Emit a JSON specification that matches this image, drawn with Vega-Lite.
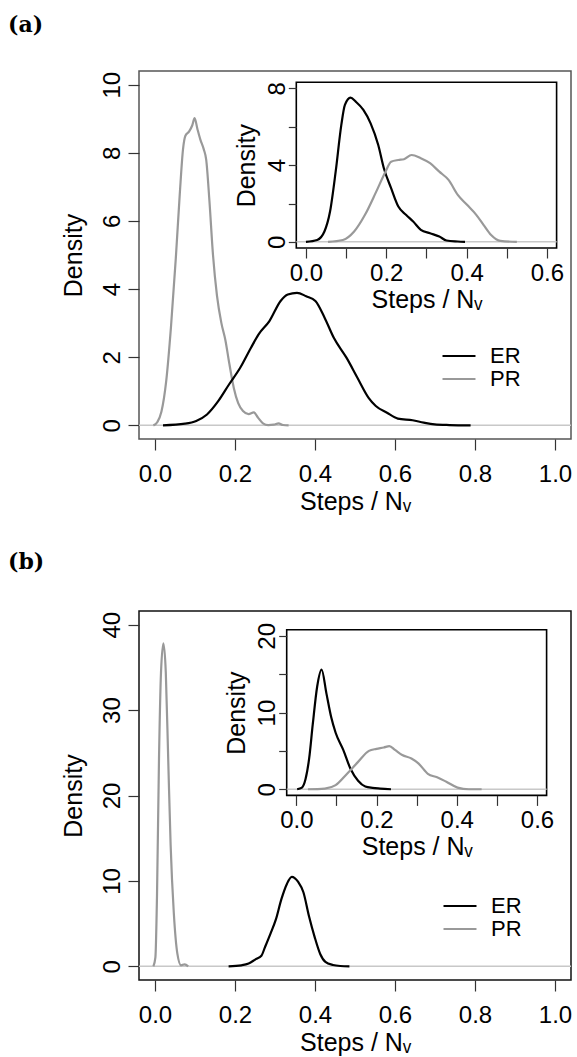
{
  "$schema": "https://vega.github.io/schema/vega-lite/v6.json",
  "background": "white",
  "padding": {"left": 7, "top": 13, "right": 3, "bottom": 0},
  "spacing": 35,
  "resolve": {"scale": {"color": "independent"}},
  "config": {
    "font": "Liberation Sans",
    "axis": {"grid": false, "domain": false, "tickColor": "#333333", "tickWidth": 1.2, "labelFont": "Liberation Sans", "labelFontSize": 24, "labelColor": "#000000", "titleFont": "Liberation Sans", "titleFontSize": 25, "titleFontWeight": "normal", "titleColor": "#000000", "labelFlush": false, "labelOverlap": false},
    "line": {"strokeWidth": 2.2, "interpolate": "monotone"},
    "legend": {"labelFont": "Liberation Sans", "labelFontSize": 22, "labelColor": "#000000"}
  },
  "datasets": {
    "a_main": [
      {"x": -0.004, "y": 0, "series": "PR"}, {"x": 0.006, "y": 0.1, "series": "PR"}, {"x": 0.016, "y": 0.4, "series": "PR"}, {"x": 0.028, "y": 1.3, "series": "PR"}, {"x": 0.04, "y": 2.9, "series": "PR"}, {"x": 0.052, "y": 4.9, "series": "PR"}, {"x": 0.062, "y": 6.8, "series": "PR"}, {"x": 0.07, "y": 8.1, "series": "PR"}, {"x": 0.076, "y": 8.5, "series": "PR"}, {"x": 0.085, "y": 8.62, "series": "PR"}, {"x": 0.093, "y": 8.8, "series": "PR"}, {"x": 0.099, "y": 9.02, "series": "PR"}, {"x": 0.106, "y": 8.7, "series": "PR"}, {"x": 0.113, "y": 8.4, "series": "PR"}, {"x": 0.122, "y": 8.1, "series": "PR"}, {"x": 0.128, "y": 7.8, "series": "PR"}, {"x": 0.136, "y": 6.6, "series": "PR"}, {"x": 0.145, "y": 5.0, "series": "PR"}, {"x": 0.155, "y": 3.8, "series": "PR"}, {"x": 0.166, "y": 3.0, "series": "PR"}, {"x": 0.176, "y": 2.5, "series": "PR"}, {"x": 0.186, "y": 1.8, "series": "PR"}, {"x": 0.197, "y": 1.1, "series": "PR"}, {"x": 0.208, "y": 0.65, "series": "PR"}, {"x": 0.22, "y": 0.42, "series": "PR"}, {"x": 0.234, "y": 0.33, "series": "PR"}, {"x": 0.247, "y": 0.38, "series": "PR"}, {"x": 0.258, "y": 0.22, "series": "PR"}, {"x": 0.27, "y": 0.06, "series": "PR"}, {"x": 0.283, "y": 0.01, "series": "PR"}, {"x": 0.297, "y": 0.02, "series": "PR"}, {"x": 0.309, "y": 0.06, "series": "PR"}, {"x": 0.32, "y": 0.01, "series": "PR"}, {"x": 0.334, "y": 0, "series": "PR"},
      {"x": 0.02, "y": 0, "series": "ER"}, {"x": 0.075, "y": 0.05, "series": "ER"}, {"x": 0.103, "y": 0.13, "series": "ER"}, {"x": 0.13, "y": 0.32, "series": "ER"}, {"x": 0.158, "y": 0.71, "series": "ER"}, {"x": 0.185, "y": 1.2, "series": "ER"}, {"x": 0.213, "y": 1.69, "series": "ER"}, {"x": 0.24, "y": 2.28, "series": "ER"}, {"x": 0.259, "y": 2.67, "series": "ER"}, {"x": 0.286, "y": 3.06, "series": "ER"}, {"x": 0.314, "y": 3.65, "series": "ER"}, {"x": 0.332, "y": 3.84, "series": "ER"}, {"x": 0.355, "y": 3.89, "series": "ER"}, {"x": 0.378, "y": 3.79, "series": "ER"}, {"x": 0.401, "y": 3.65, "series": "ER"}, {"x": 0.424, "y": 3.16, "series": "ER"}, {"x": 0.447, "y": 2.57, "series": "ER"}, {"x": 0.479, "y": 1.98, "series": "ER"}, {"x": 0.506, "y": 1.4, "series": "ER"}, {"x": 0.534, "y": 0.81, "series": "ER"}, {"x": 0.552, "y": 0.57, "series": "ER"}, {"x": 0.58, "y": 0.37, "series": "ER"}, {"x": 0.607, "y": 0.2, "series": "ER"}, {"x": 0.644, "y": 0.15, "series": "ER"}, {"x": 0.672, "y": 0.08, "series": "ER"}, {"x": 0.699, "y": 0.03, "series": "ER"}, {"x": 0.736, "y": 0.01, "series": "ER"}, {"x": 0.789, "y": 0, "series": "ER"}
    ],
    "a_inset": [
      {"x": 0.0, "y": 0, "series": "ER"}, {"x": 0.028, "y": 0.1, "series": "ER"}, {"x": 0.046, "y": 0.54, "series": "ER"}, {"x": 0.06, "y": 1.58, "series": "ER"}, {"x": 0.074, "y": 3.66, "series": "ER"}, {"x": 0.088, "y": 6.09, "series": "ER"}, {"x": 0.097, "y": 7.14, "series": "ER"}, {"x": 0.111, "y": 7.52, "series": "ER"}, {"x": 0.124, "y": 7.31, "series": "ER"}, {"x": 0.143, "y": 6.88, "series": "ER"}, {"x": 0.161, "y": 6.18, "series": "ER"}, {"x": 0.18, "y": 5.05, "series": "ER"}, {"x": 0.194, "y": 3.84, "series": "ER"}, {"x": 0.212, "y": 2.8, "series": "ER"}, {"x": 0.23, "y": 1.84, "series": "ER"}, {"x": 0.249, "y": 1.41, "series": "ER"}, {"x": 0.267, "y": 1.06, "series": "ER"}, {"x": 0.286, "y": 0.63, "series": "ER"}, {"x": 0.309, "y": 0.45, "series": "ER"}, {"x": 0.332, "y": 0.28, "series": "ER"}, {"x": 0.35, "y": 0.07, "series": "ER"}, {"x": 0.378, "y": 0.02, "series": "ER"}, {"x": 0.396, "y": 0, "series": "ER"},
      {"x": 0.055, "y": 0, "series": "PR"}, {"x": 0.092, "y": 0.1, "series": "PR"}, {"x": 0.12, "y": 0.54, "series": "PR"}, {"x": 0.147, "y": 1.41, "series": "PR"}, {"x": 0.175, "y": 2.62, "series": "PR"}, {"x": 0.198, "y": 3.66, "series": "PR"}, {"x": 0.212, "y": 4.18, "series": "PR"}, {"x": 0.23, "y": 4.27, "series": "PR"}, {"x": 0.244, "y": 4.31, "series": "PR"}, {"x": 0.263, "y": 4.53, "series": "PR"}, {"x": 0.286, "y": 4.36, "series": "PR"}, {"x": 0.309, "y": 4.1, "series": "PR"}, {"x": 0.332, "y": 3.66, "series": "PR"}, {"x": 0.355, "y": 3.23, "series": "PR"}, {"x": 0.378, "y": 2.45, "series": "PR"}, {"x": 0.401, "y": 1.93, "series": "PR"}, {"x": 0.424, "y": 1.41, "series": "PR"}, {"x": 0.442, "y": 0.89, "series": "PR"}, {"x": 0.461, "y": 0.36, "series": "PR"}, {"x": 0.484, "y": 0.05, "series": "PR"}, {"x": 0.525, "y": 0, "series": "PR"}
    ],
    "b_main": [
      {"x": -0.004, "y": 0, "series": "PR"}, {"x": 0.001, "y": 1.04, "series": "PR"}, {"x": 0.005, "y": 8.27, "series": "PR"}, {"x": 0.01, "y": 24.3, "series": "PR"}, {"x": 0.015, "y": 34.4, "series": "PR"}, {"x": 0.021, "y": 37.8, "series": "PR"}, {"x": 0.027, "y": 34.4, "series": "PR"}, {"x": 0.033, "y": 24.3, "series": "PR"}, {"x": 0.039, "y": 14.3, "series": "PR"}, {"x": 0.047, "y": 6.27, "series": "PR"}, {"x": 0.056, "y": 1.45, "series": "PR"}, {"x": 0.065, "y": 0.12, "series": "PR"}, {"x": 0.074, "y": 0.24, "series": "PR"}, {"x": 0.083, "y": 0, "series": "PR"},
      {"x": 0.184, "y": 0, "series": "ER"}, {"x": 0.216, "y": 0.12, "series": "ER"}, {"x": 0.234, "y": 0.32, "series": "ER"}, {"x": 0.252, "y": 0.84, "series": "ER"}, {"x": 0.266, "y": 1.24, "series": "ER"}, {"x": 0.275, "y": 2.25, "series": "ER"}, {"x": 0.289, "y": 3.86, "series": "ER"}, {"x": 0.302, "y": 5.46, "series": "ER"}, {"x": 0.316, "y": 7.87, "series": "ER"}, {"x": 0.33, "y": 9.68, "series": "ER"}, {"x": 0.342, "y": 10.48, "series": "ER"}, {"x": 0.358, "y": 9.88, "series": "ER"}, {"x": 0.371, "y": 8.67, "series": "ER"}, {"x": 0.385, "y": 5.86, "series": "ER"}, {"x": 0.399, "y": 3.45, "series": "ER"}, {"x": 0.413, "y": 1.45, "series": "ER"}, {"x": 0.426, "y": 0.52, "series": "ER"}, {"x": 0.445, "y": 0.16, "series": "ER"}, {"x": 0.463, "y": 0.04, "series": "ER"}, {"x": 0.486, "y": 0, "series": "ER"}
    ],
    "b_inset": [
      {"x": 0.002, "y": 0, "series": "ER"}, {"x": 0.014, "y": 0.22, "series": "ER"}, {"x": 0.023, "y": 1.34, "series": "ER"}, {"x": 0.032, "y": 4.02, "series": "ER"}, {"x": 0.041, "y": 8.48, "series": "ER"}, {"x": 0.052, "y": 13.4, "series": "ER"}, {"x": 0.063, "y": 15.6, "series": "ER"}, {"x": 0.075, "y": 12.5, "series": "ER"}, {"x": 0.087, "y": 9.38, "series": "ER"}, {"x": 0.098, "y": 7.37, "series": "ER"}, {"x": 0.117, "y": 5.13, "series": "ER"}, {"x": 0.135, "y": 2.68, "series": "ER"}, {"x": 0.154, "y": 1.12, "series": "ER"}, {"x": 0.172, "y": 0.36, "series": "ER"}, {"x": 0.19, "y": 0.18, "series": "ER"}, {"x": 0.209, "y": 0.09, "series": "ER"}, {"x": 0.236, "y": 0, "series": "ER"},
      {"x": 0.029, "y": 0, "series": "PR"}, {"x": 0.071, "y": 0.09, "series": "PR"}, {"x": 0.098, "y": 0.54, "series": "PR"}, {"x": 0.126, "y": 2.0, "series": "PR"}, {"x": 0.154, "y": 3.57, "series": "PR"}, {"x": 0.181, "y": 5.0, "series": "PR"}, {"x": 0.2, "y": 5.27, "series": "PR"}, {"x": 0.218, "y": 5.45, "series": "PR"}, {"x": 0.232, "y": 5.63, "series": "PR"}, {"x": 0.246, "y": 5.13, "series": "PR"}, {"x": 0.264, "y": 4.46, "series": "PR"}, {"x": 0.287, "y": 4.02, "series": "PR"}, {"x": 0.305, "y": 3.35, "series": "PR"}, {"x": 0.328, "y": 2.01, "series": "PR"}, {"x": 0.351, "y": 1.56, "series": "PR"}, {"x": 0.374, "y": 0.98, "series": "PR"}, {"x": 0.402, "y": 0.22, "series": "PR"}, {"x": 0.43, "y": 0, "series": "PR"}, {"x": 0.462, "y": 0, "series": "PR"}
    ],
    "one": [{}]
  },
  "vconcat": [
    {
      "title": {"text": "(a)", "anchor": "start", "frame": "group", "dx": -131, "offset": 34, "font": "DejaVu Serif", "fontSize": 22, "fontWeight": "bold", "color": "#000000"},
      "width": 432,
      "height": 368,
      "view": {"stroke": "#555555", "strokeWidth": 1.5},
      "resolve": {"scale": {"x": "independent", "y": "independent"}},
      "layer": [
        {
          "layer": [
            {
              "data": {"name": "one"},
              "mark": {"type": "rule", "color": "#c8c8c8", "strokeWidth": 1.5},
              "encoding": {
                "y": {"datum": 0, "type": "quantitative", "scale": {"domain": [-0.4, 10.4], "nice": false, "zero": false}, "axis": {"orient": "left", "values": [0, 2, 4, 6, 8, 10], "tickSize": 11, "labelAngle": -90, "labelAlign": "center", "labelBaseline": "alphabetic", "labelPadding": 9, "labelFontSize": 24, "title": "Density", "titleFontSize": 25, "titlePadding": 14}}
              }
            },
            {
              "data": {"name": "a_main"},
              "mark": {"type": "line"},
              "encoding": {
                "x": {"field": "x", "type": "quantitative", "scale": {"domain": [-0.04, 1.04], "nice": false, "zero": false}, "axis": {"orient": "bottom", "values": [0, 0.2, 0.4, 0.6, 0.8, 1.0], "format": ".1f", "tickSize": 11, "labelPadding": 12, "labelFontSize": 24, "title": "Steps / Nᵥ", "titleFontSize": 25, "titlePadding": 3}},
                "y": {"field": "y", "type": "quantitative", "scale": {"domain": [-0.4, 10.4], "nice": false, "zero": false}, "axis": {"orient": "left", "values": [0, 2, 4, 6, 8, 10], "tickSize": 11, "labelAngle": -90, "labelAlign": "center", "labelBaseline": "alphabetic", "labelPadding": 9, "labelFontSize": 24, "title": "Density", "titleFontSize": 25, "titlePadding": 14}},
                "color": {"field": "series", "type": "nominal", "scale": {"domain": ["ER", "PR"], "range": ["#000000", "#999999"]}, "legend": {"title": null, "orient": "none", "legendX": 309, "legendY": 274, "symbolType": "M-2,0H2", "symbolSize": 272, "symbolStrokeWidth": 2.2, "labelFontSize": 22, "labelOffset": 20, "rowPadding": 1}}
              }
            }
          ]
        },
        {
          "layer": [
            {
              "data": {"name": "one"},
              "mark": {"type": "rect", "fill": "#ffffff", "stroke": "#000000", "strokeWidth": 1.6},
              "encoding": {
                "x": {"datum": -0.024, "type": "quantitative", "scale": {"domain": [-0.024, 0.624], "range": [157.3, 417.6], "nice": false, "zero": false}, "axis": {"orient": "bottom", "offset": -191, "zindex": 1, "values": [0, 0.1, 0.2, 0.3, 0.4, 0.5, 0.6], "labelExpr": "round(datum.value * 10) % 2 == 0 ? format(datum.value, '.1f') : ''", "tickSize": 10, "labelPadding": 3, "labelFontSize": 24, "title": "Steps / Nᵥ", "titleFontSize": 25, "titlePadding": 2}},
                "x2": {"datum": 0.624},
                "y": {"datum": -0.32, "type": "quantitative", "scale": {"domain": [-0.32, 8.32], "range": [177, 11.3], "nice": false, "zero": false}, "axis": {"orient": "left", "offset": -157.3, "zindex": 1, "values": [0, 2, 4, 6, 8], "labelExpr": "datum.value % 4 == 0 ? datum.label : ''", "tickSize": 8, "labelAngle": -90, "labelAlign": "center", "labelBaseline": "alphabetic", "labelPadding": 4, "labelFontSize": 24, "title": "Density", "titleFontSize": 25, "titlePadding": 6}},
                "y2": {"datum": 8.32}
              }
            },
            {
              "data": {"name": "one"},
              "mark": {"type": "rule", "color": "#c8c8c8", "strokeWidth": 1.5},
              "encoding": {
                "x": {"datum": -0.024, "type": "quantitative"},
                "x2": {"datum": 0.624},
                "y": {"datum": 0, "type": "quantitative"}
              }
            },
            {
              "data": {"name": "a_inset"},
              "mark": {"type": "line"},
              "encoding": {
                "x": {"field": "x", "type": "quantitative"},
                "y": {"field": "y", "type": "quantitative"},
                "color": {"field": "series", "type": "nominal"}
              }
            }
          ]
        }
      ]
    },
    {
      "title": {"text": "(b)", "anchor": "start", "frame": "group", "dx": -131, "offset": 37, "font": "DejaVu Serif", "fontSize": 22, "fontWeight": "bold", "color": "#000000"},
      "width": 432,
      "height": 369,
      "view": {"stroke": "#111111", "strokeWidth": 1.5},
      "resolve": {"scale": {"x": "independent", "y": "independent"}},
      "layer": [
        {
          "layer": [
            {
              "data": {"name": "one"},
              "mark": {"type": "rule", "color": "#c8c8c8", "strokeWidth": 1.5},
              "encoding": {
                "y": {"datum": 0, "type": "quantitative", "scale": {"domain": [-1.6, 41.6], "nice": false, "zero": false}, "axis": {"orient": "left", "values": [0, 10, 20, 30, 40], "tickSize": 11, "labelAngle": -90, "labelAlign": "center", "labelBaseline": "alphabetic", "labelPadding": 9, "labelFontSize": 24, "title": "Density", "titleFontSize": 25, "titlePadding": 14}}
              }
            },
            {
              "data": {"name": "b_main"},
              "mark": {"type": "line"},
              "encoding": {
                "x": {"field": "x", "type": "quantitative", "scale": {"domain": [-0.04, 1.04], "nice": false, "zero": false}, "axis": {"orient": "bottom", "values": [0, 0.2, 0.4, 0.6, 0.8, 1.0], "format": ".1f", "tickSize": 11, "labelPadding": 12, "labelFontSize": 24, "title": "Steps / Nᵥ", "titleFontSize": 25, "titlePadding": 3}},
                "y": {"field": "y", "type": "quantitative", "scale": {"domain": [-1.6, 41.6], "nice": false, "zero": false}, "axis": {"orient": "left", "values": [0, 10, 20, 30, 40], "tickSize": 11, "labelAngle": -90, "labelAlign": "center", "labelBaseline": "alphabetic", "labelPadding": 9, "labelFontSize": 24, "title": "Density", "titleFontSize": 25, "titlePadding": 14}},
                "color": {"field": "series", "type": "nominal", "scale": {"domain": ["ER", "PR"], "range": ["#000000", "#999999"]}, "legend": {"title": null, "orient": "none", "legendX": 310, "legendY": 284, "symbolType": "M-2,0H2", "symbolSize": 272, "symbolStrokeWidth": 2.2, "labelFontSize": 22, "labelOffset": 20, "rowPadding": 1}}
              }
            }
          ]
        },
        {
          "layer": [
            {
              "data": {"name": "one"},
              "mark": {"type": "rect", "fill": "#ffffff", "stroke": "#000000", "strokeWidth": 1.6},
              "encoding": {
                "x": {"datum": -0.024, "type": "quantitative", "scale": {"domain": [-0.024, 0.624], "range": [147.7, 407.6], "nice": false, "zero": false}, "axis": {"orient": "bottom", "offset": -184.6, "zindex": 1, "values": [0, 0.1, 0.2, 0.3, 0.4, 0.5, 0.6], "labelExpr": "round(datum.value * 10) % 2 == 0 ? format(datum.value, '.1f') : ''", "tickSize": 10, "labelPadding": 3, "labelFontSize": 24, "title": "Steps / Nᵥ", "titleFontSize": 25, "titlePadding": 2}},
                "x2": {"datum": 0.624},
                "y": {"datum": -0.8, "type": "quantitative", "scale": {"domain": [-0.8, 20.8], "range": [184.4, 18.7], "nice": false, "zero": false}, "axis": {"orient": "left", "offset": -147.7, "zindex": 1, "values": [0, 5, 10, 15, 20], "labelExpr": "datum.value % 10 == 0 ? datum.label : ''", "tickSize": 8, "labelAngle": -90, "labelAlign": "center", "labelBaseline": "alphabetic", "labelPadding": 4, "labelFontSize": 24, "title": "Density", "titleFontSize": 25, "titlePadding": 6}},
                "y2": {"datum": 20.8}
              }
            },
            {
              "data": {"name": "one"},
              "mark": {"type": "rule", "color": "#c8c8c8", "strokeWidth": 1.5},
              "encoding": {
                "x": {"datum": -0.024, "type": "quantitative"},
                "x2": {"datum": 0.624},
                "y": {"datum": 0, "type": "quantitative"}
              }
            },
            {
              "data": {"name": "b_inset"},
              "mark": {"type": "line"},
              "encoding": {
                "x": {"field": "x", "type": "quantitative"},
                "y": {"field": "y", "type": "quantitative"},
                "color": {"field": "series", "type": "nominal"}
              }
            }
          ]
        }
      ]
    }
  ]
}
